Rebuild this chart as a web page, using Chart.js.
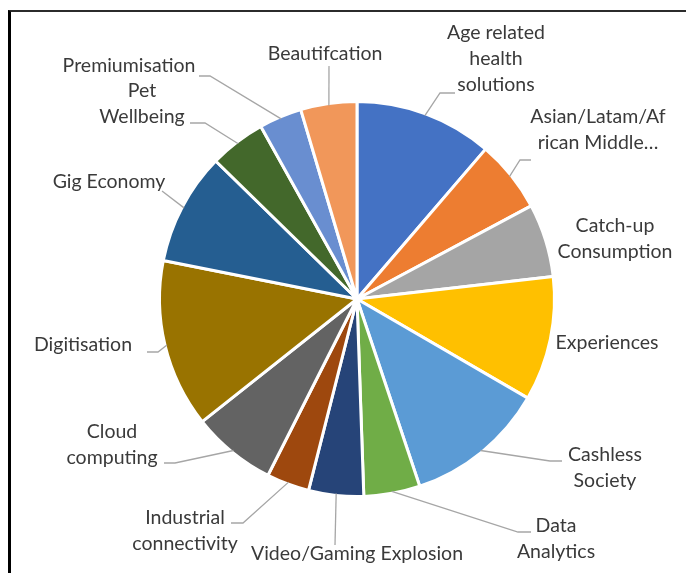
<!DOCTYPE html>
<html>
<head>
<meta charset="utf-8">
<script src="https://cdn.jsdelivr.net/npm/chart.js@4/dist/chart.umd.min.js"></script>
<style>
  html, body { margin: 0; padding: 0; background: #fff; overflow: hidden; }
  #wrap { position: relative; width: 686px; height: 573px; }
  #frame {
    position: absolute; left: 8px; top: 10px; width: 720px; height: 620px;
    border-left: 3px solid #000; border-top: 2px solid #2b2b2b;
    pointer-events: none;
  }
</style>
</head>
<body>
<div id="wrap">
  <canvas id="trend-chart"></canvas>
  <div id="frame"></div>
</div>
<script>
// categories, clockwise from 12 o'clock
const categories = [
  'Age related health solutions',
  'Asian/Latam/African Middle Class',
  'Catch-up Consumption',
  'Experiences',
  'Cashless Society',
  'Data Analytics',
  'Video/Gaming Explosion',
  'Industrial connectivity',
  'Cloud computing',
  'Digitisation',
  'Gig Economy',
  'Pet Wellbeing',
  'Premiumisation',
  'Beautifcation'
]

// share of each trend (%)
const shares = [11.3, 5.9, 6.0, 10.2, 11.5, 4.6, 4.5, 3.5, 6.9, 13.8, 9.2, 4.6, 3.5, 4.6]

// label text as it is wrapped in the picture
const labelLines = [
  ['Age related', 'health', 'solutions'],
  ['Asian/Latam/Af', 'rican Middle…'],
  ['Catch-up', 'Consumption'],
  ['Experiences'],
  ['Cashless', 'Society'],
  ['Data', 'Analytics'],
  ['Video/Gaming Explosion'],
  ['Industrial', 'connectivity'],
  ['Cloud', 'computing'],
  ['Digitisation'],
  ['Gig Economy'],
  ['Pet', 'Wellbeing'],
  ['Premiumisation'],
  ['Beautifcation']
]

const colors = [
  '#4472C4', '#ED7D31', '#A5A5A5', '#FFC000', '#5B9BD5', '#70AD47', '#264478',
  '#9E480E', '#636363', '#997300', '#255E91', '#43682B', '#698ED0', '#F1975A'
]

// label layout, offsets from the pie centre: text centre, leader end, hook length
const labelLayout = [
  { x: 139, y: -240, end: [98, -206], hook: 15 },
  { x: 241, y: -169, end: [174, -139], hook: 11 },
  { x: 258, y: -60, end: null },
  { x: 250, y: 44, end: null },
  { x: 248, y: 169, end: [205, 162], hook: 12 },
  { x: 199, y: 240, end: [174, 233], hook: 13 },
  { x: 0, y: 255, end: [-22, 246], hook: 0 },
  { x: -172, y: 232, end: [-126, 224], hook: -12 },
  { x: -245, y: 146, end: [-193, 164], hook: -11 },
  { x: -274, y: 46, end: [-210, 53], hook: -11 },
  { x: -248, y: -117, end: [-195, -108], hook: 0 },
  { x: -215, y: -195, end: [-167, -176], hook: -15 },
  { x: -228, y: -233, end: [-158, -223], hook: -11 },
  { x: -32, y: -245, end: [-28, -233], hook: 0 }
]

const outsideLabels = {
  id: 'outsideLabels',
  afterDatasetsDraw(chart) {
    const { ctx } = chart
    const arcs = chart.getDatasetMeta(0).data
    ctx.save()
    ctx.font = '19.5px Lato'
    ctx.fillStyle = '#3a3a3a'
    ctx.textAlign = 'center'
    ctx.textBaseline = 'middle'
    const lineH = 26
    arcs.forEach((arc, i) => {
      const { x, y, startAngle, endAngle, outerRadius } = arc.getProps(['x', 'y', 'startAngle', 'endAngle', 'outerRadius'])
      const mid = (startAngle + endAngle) / 2
      const lay = labelLayout[i]
      if (lay.end) {
        const sx = x + Math.cos(mid) * (outerRadius - 2)
        const sy = y + Math.sin(mid) * (outerRadius - 2)
        const ex = x + lay.end[0]
        const ey = y + lay.end[1]
        ctx.beginPath()
        ctx.strokeStyle = '#A6A6A6'
        ctx.lineWidth = 1.3
        ctx.moveTo(sx, sy)
        ctx.lineTo(ex - lay.hook, ey)
        ctx.lineTo(ex, ey)
        ctx.stroke()
      }
      const lines = labelLines[i]
      const top = y + lay.y - (lines.length - 1) * lineH / 2
      lines.forEach((t, j) => ctx.fillText(t, x + lay.x, top + j * lineH))
    })
    ctx.restore()
  }
}

const ctx = document.getElementById('trend-chart')

new Chart(ctx, {
  type: 'pie',
  data: {
    labels: categories,
    datasets: [{
      data: shares,
      backgroundColor: colors,
      borderColor: '#ffffff',
      borderWidth: 3
    }]
  },
  options: {
    responsive: true,
    maintainAspectRatio: false,
    animation: false,
    layout: {
      padding: { left: 158, right: 130, top: 100, bottom: 75 }
    },
    plugins: {
      legend: { display: false },
      tooltip: { enabled: false }
    }
  },
  plugins: [outsideLabels]
})
</script>
</body>
</html>
